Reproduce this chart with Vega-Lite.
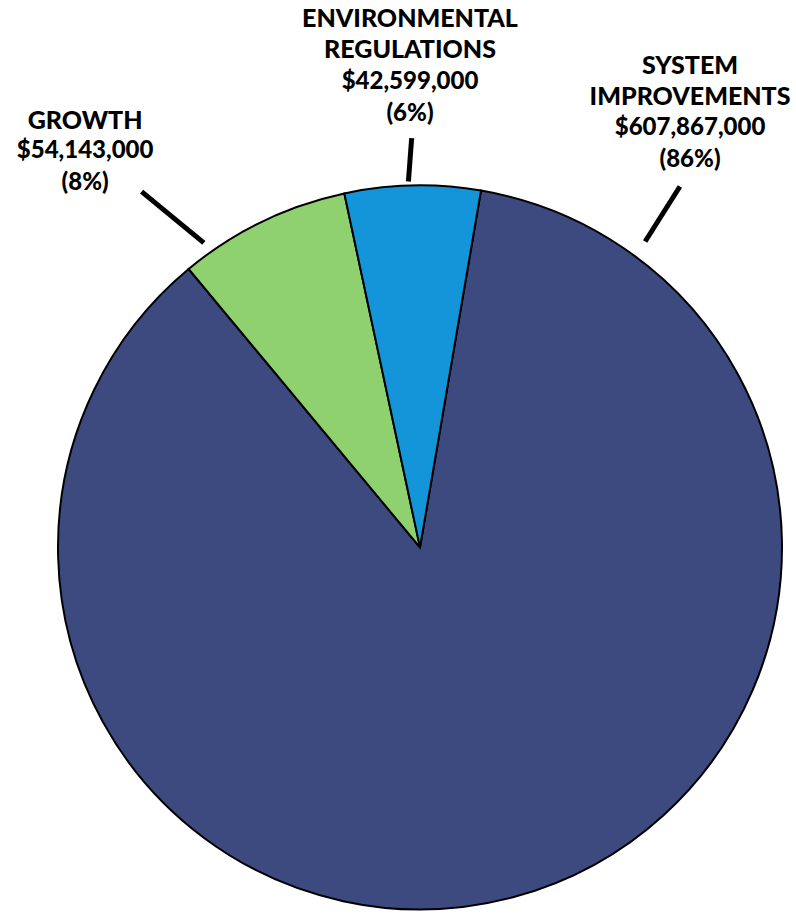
{
  "$schema": "https://vega.github.io/schema/vega-lite/v6.json",
  "autosize": {"type": "fit", "contains": "padding"},
  "width": 796,
  "height": 914,
  "padding": 0,
  "background": "white",
  "config": {"view": {"stroke": null}},
  "datasets": {
    "slices": [
      {"category": "SYSTEM IMPROVEMENTS", "amount": 607867000, "rank": 1},
      {"category": "GROWTH", "amount": 54143000, "rank": 2},
      {"category": "ENVIRONMENTAL REGULATIONS", "amount": 42599000, "rank": 3}
    ],
    "labels": [
      {"category": "GROWTH", "name": "GROWTH", "value": "$54,143,000\n(8%)", "lx": -0.925, "ny": 1.18, "vy": 1.097, "ax": -0.769, "ay": 0.984, "bx": -0.597, "by": 0.842},
      {"category": "ENVIRONMENTAL REGULATIONS", "name": "ENVIRONMENTAL\nREGULATIONS", "value": "$42,599,000\n(6%)", "lx": -0.0276, "ny": 1.4617, "vy": 1.2863, "ax": -0.023, "ay": 1.132, "bx": -0.032, "by": 1.012},
      {"category": "SYSTEM IMPROVEMENTS", "name": "SYSTEM\nIMPROVEMENTS", "value": "$607,867,000\n(86%)", "lx": 0.746, "ny": 1.3305, "vy": 1.1592, "ax": 0.718, "ay": 0.998, "bx": 0.622, "by": 0.846}
    ]
  },
  "layer": [
    {
      "data": {"name": "slices"},
      "mark": {"type": "arc", "outerRadius": 362, "stroke": "black", "strokeWidth": 2},
      "encoding": {
        "x": {"datum": 0, "type": "quantitative", "scale": {"domain": [-1.1602, 1.0387], "nice": false, "zero": false}, "axis": null},
        "y": {"datum": 0, "type": "quantitative", "scale": {"domain": [-1.0110, 1.5138], "nice": false, "zero": false}, "axis": null},
        "theta": {"field": "amount", "type": "quantitative", "stack": true, "scale": {"range": [0.1693, 6.4525]}},
        "order": {"field": "rank", "type": "quantitative"},
        "color": {
          "field": "category", "type": "nominal", "legend": null,
          "scale": {"domain": ["SYSTEM IMPROVEMENTS", "GROWTH", "ENVIRONMENTAL REGULATIONS"], "range": ["#3d4a7f", "#8fd16f", "#1495d9"]}
        }
      }
    },
    {
      "data": {"name": "labels"},
      "mark": {"type": "rule", "color": "black", "strokeWidth": 5, "strokeCap": "butt"},
      "encoding": {
        "x": {"field": "ax", "type": "quantitative"},
        "y": {"field": "ay", "type": "quantitative"},
        "x2": {"field": "bx"},
        "y2": {"field": "by"}
      }
    },
    {
      "data": {"name": "labels"},
      "mark": {"type": "text", "lineBreak": "\n", "font": "Lato", "fontWeight": 900, "fontSize": 25, "letterSpacing": 1.8, "lineHeight": 31, "align": "center", "baseline": "middle", "color": "black"},
      "encoding": {
        "x": {"field": "lx", "type": "quantitative"},
        "y": {"field": "ny", "type": "quantitative"},
        "text": {"field": "name"}
      }
    },
    {
      "data": {"name": "labels"},
      "mark": {"type": "text", "lineBreak": "\n", "font": "Lato", "fontWeight": 900, "fontSize": 24, "letterSpacing": 0.3, "lineHeight": 32, "align": "center", "baseline": "middle", "color": "black"},
      "encoding": {
        "x": {"field": "lx", "type": "quantitative"},
        "y": {"field": "vy", "type": "quantitative"},
        "text": {"field": "value"}
      }
    }
  ]
}
